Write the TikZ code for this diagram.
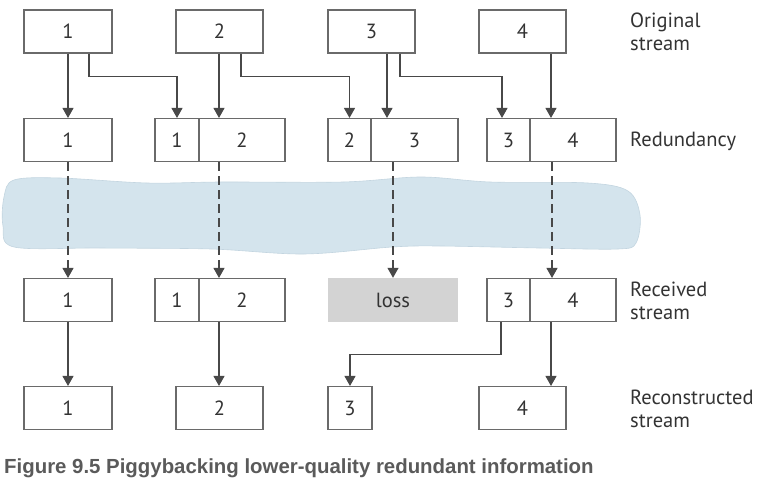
\documentclass[tikz,border=0pt]{standalone}
\usepackage{fontspec}
\setmainfont{PT Sans}
\newfontfamily\capfont{Liberation Sans}
\usetikzlibrary{arrows.meta,calc}
\definecolor{boxline}{HTML}{6A6A6A}
\definecolor{arrline}{HTML}{484848}
\definecolor{txt}{HTML}{333333}
\definecolor{cloudfill}{HTML}{D4E4ED}
\definecolor{cloudline}{HTML}{C3D5E0}
\definecolor{lossfill}{HTML}{D3D3D3}
\definecolor{capcol}{HTML}{5A5A5A}
\begin{document}
\begin{tikzpicture}[x=1pt,y=-1pt,
  box/.style={draw=boxline,line width=1.1pt,minimum height=43pt,inner sep=0pt,
    text=txt,font=\fontsize{20.5}{24}\selectfont},
  lossbox/.style={fill=lossfill,minimum height=44pt,inner sep=0pt,
    text=txt,font=\fontsize{20.5}{24}\selectfont},
  lbl/.style={anchor=west,align=left,inner sep=0pt,text=txt,
    font=\fontsize{20.5}{23}\selectfont},
  arr/.style={draw=arrline,line width=1.1pt,-{Triangle[width=11pt,length=10pt]}},
  darr/.style={arr,dash pattern=on 9pt off 5pt}
]
\useasboundingbox (0,0) rectangle (768,487);
% cloud
\fill[cloudfill,draw=cloudline,line width=0.6pt] plot[smooth cycle,tension=0.55] coordinates {
  (14,180) (60,178) (147,183) (221,182) (343,182) (421,177) (490,182) (588,183)
  (628,191) (640,215) (636,243) (618,249) (539,248) (440,246) (392,247) (304,254)
  (211,249) (100,248) (14,247) (3,226) (4,197)};
% original stream
\node[box,minimum width=88pt] (O1) at (68,31.5) {1};
\node[box,minimum width=87pt] (O2) at (219.5,31.5) {2};
\node[box,minimum width=87pt] (O3) at (371.5,31.5) {3};
\node[box,minimum width=87pt] (O4) at (522.5,31.5) {4};
% redundancy
\node[box,minimum width=88pt] (R1) at (68,140) {1};
\node[box,minimum width=44pt] (R2a) at (177,140) {1};
\node[box,minimum width=86pt] (R2b) at (242,140) {2};
\node[box,minimum width=43pt] (R3a) at (349.5,140) {2};
\node[box,minimum width=87pt] (R3b) at (414.5,140) {3};
\node[box,minimum width=43pt] (R4a) at (508.5,140) {3};
\node[box,minimum width=86pt] (R4b) at (573,140) {4};
% received
\node[box,minimum width=88pt] (V1) at (68,300) {1};
\node[box,minimum width=44pt] (V2a) at (177,300) {1};
\node[box,minimum width=86pt] (V2b) at (242,300) {2};
\node[lossbox,minimum width=130pt] (loss) at (393,300) {loss};
\node[box,minimum width=43pt] (V4a) at (508.5,300) {3};
\node[box,minimum width=86pt] (V4b) at (573,300) {4};
% reconstructed
\node[box,minimum width=88pt] (C1) at (68,408) {1};
\node[box,minimum width=87pt] (C2) at (219.5,408) {2};
\node[box,minimum width=44pt] (C3) at (350,408) {3};
\node[box,minimum width=87pt] (C4) at (522.5,408) {4};
% labels
\node[lbl] (L1) at (630,32) {Original\\stream};
\node[lbl] (L2) at (630,141) {Redundancy};
\node[lbl] (L3) at (630,301) {Received\\stream};
\node[lbl] (L4) at (630,409) {Reconstructed\\stream};
% top arrows
\draw[arr] (O1.south) -- (R1.north);
\draw[arr] ([xshift=21pt]O1.south) -- ++(0,23) -| (R2a.north);
\draw[arr] ([xshift=-0.5pt]O2.south) coordinate (o2c) -- (R2b.north -| o2c);
\draw[arr] ([xshift=21.5pt]O2.south) -- ++(0,23) -| (R3a.north);
\draw[arr] ([xshift=15.5pt]O3.south) coordinate (o3c) -- (R3b.north -| o3c);
\draw[arr] ([xshift=28.5pt]O3.south) -- ++(0,23) -| ([xshift=-6.5pt]R4a.north);
\draw[arr] ([xshift=28.5pt]O4.south) coordinate (o4c) -- (R4b.north -| o4c);
% dashed arrows
\draw[darr] (R1.south) -- (V1.north);
\draw[darr] ([xshift=-23pt]R2b.south) -- ([xshift=-23pt]V2b.north);
\draw[darr] (loss.north |- R3b.south) -- (loss.north);
\draw[darr] ([xshift=-21pt]R4b.south) -- ([xshift=-21pt]V4b.north);
% bottom arrows
\draw[arr] (V1.south) -- (C1.north);
\draw[arr] ([xshift=-23pt]V2b.south) coordinate (v2c) -- (v2c |- C2.north);
\draw[arr] ([xshift=-7.5pt]V4a.south) -- ++(0,32) -| (C3.north);
\draw[arr] ([xshift=-22pt]V4b.south) coordinate (v4c) -- (v4c |- C4.north);
% caption
\node[anchor=base west,inner sep=0pt,text=capcol,
  font=\capfont\bfseries\fontsize{20.4}{24}\selectfont] (cap) at (4,473)
  {Figure 9.5 Piggybacking lower-quality redundant information};
\end{tikzpicture}
\end{document}
